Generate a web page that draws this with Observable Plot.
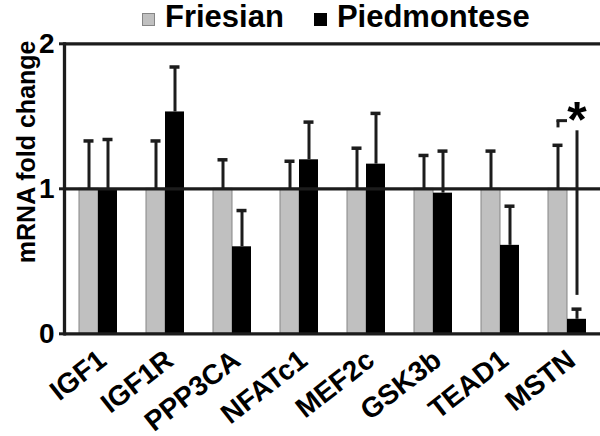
<!DOCTYPE html>
<html>
<head>
<meta charset="utf-8">
<script src="https://cdn.jsdelivr.net/npm/d3@7"></script>
<script src="https://cdn.jsdelivr.net/npm/@observablehq/plot@0.6"></script>
<style>
  html, body { margin: 0; padding: 0; background: #fff; }
  body { width: 600px; height: 436px; overflow: hidden; font-family: "Liberation Sans", Arial, sans-serif; }
  #legend { height: 34px; margin-bottom: -3px; display: flex; align-items: flex-start; padding-left: 142px; font-weight: bold; font-size: 31px; line-height: 34px; color: #000; position: relative; z-index: 1; }
  #legend .sw { width: 13px; height: 13px; margin-top: 13px; box-sizing: border-box; }
  #legend .lab { margin-left: 10px; }
  #legend .gap { width: 30px; }
  svg { overflow: visible; }
  svg text { font-weight: bold; }
</style>
</head>
<body>
<div id="legend"></div>
<div id="chart"></div>
<script>
// ---- data ----
const categories = ["IGF1", "IGF1R", "PPP3CA", "NFATc1", "MEF2c", "GSK3b", "TEAD1", "MSTN"];
const seriesNames = ["Friesian", "Piedmontese"];
const friesianMean = [1, 1, 1, 1, 1, 1, 1, 1];
const friesianSE = [0.33, 0.33, 0.20, 0.19, 0.28, 0.23, 0.26, 0.30];
const piedmonteseMean = [1.0, 1.53, 0.60, 1.20, 1.17, 0.97, 0.61, 0.10];
const piedmonteseSE = [0.34, 0.31, 0.25, 0.26, 0.35, 0.29, 0.27, 0.07];
const yTicks = [0, 1, 2];
const yLabel = "mRNA fold change";
// significance annotation (MSTN)
const sigGene = "MSTN";
const sigLine = [0.265, 1.40];     // vertical line over Piedmontese bar
const sigBracket = [1.42, 1.47];   // small bracket over Friesian bar
const sigMark = "*";
const sigMarkY = 1.60;

const seriesFill = ["#c0c0c0", "#000000"];
const seriesStroke = ["#858585", "#000000"];

// ---- legend (HTML, above the SVG) ----
const legend = document.getElementById("legend");
seriesNames.forEach((name, i) => {
  if (i > 0) { const g = document.createElement("span"); g.className = "gap"; legend.appendChild(g); }
  const sw = document.createElement("span");
  sw.className = "sw";
  sw.style.background = seriesFill[i];
  sw.style.border = `1px solid ${seriesStroke[i]}`;
  legend.appendChild(sw);
  const lab = document.createElement("span");
  lab.className = "lab";
  lab.textContent = name;
  legend.appendChild(lab);
});

// ---- long-form rows ----
const rows = categories.flatMap((g, i) => [
  {gene: g, series: seriesNames[0], mean: friesianMean[i], se: friesianSE[i]},
  {gene: g, series: seriesNames[1], mean: piedmonteseMean[i], se: piedmonteseSE[i]}
]);
const sigLineRows = [{gene: sigGene, series: seriesNames[1], y1: sigLine[0], y2: sigLine[1]}];
const sigBracketRows = [{gene: sigGene, series: seriesNames[0], y1: sigBracket[0], y2: sigBracket[1]}];
const sigMarkRows = [{gene: sigGene, series: seriesNames[1], y: sigMarkY, text: sigMark}];

const ink = "#1c1c1c";

const chart = Plot.plot({
  width: 600,
  height: 405,
  marginTop: 12.3,
  marginBottom: 102.7,
  marginLeft: 63,
  marginRight: 0,
  style: {fontFamily: "Liberation Sans, Arial, sans-serif", fontSize: "28px", background: "transparent", overflow: "visible"},
  fx: {domain: categories, padding: 0, label: null, axis: null},
  x: {domain: seriesNames, paddingInner: 0, paddingOuter: 0.72, axis: null},
  y: {domain: [0, 2], label: null, axis: null},
  marks: [
    Plot.barY(rows.filter(d => d.series === seriesNames[0]), {fx: "gene", x: "series", y: "mean", fill: seriesFill[0], stroke: seriesStroke[0], strokeWidth: 1}),
    Plot.barY(rows.filter(d => d.series === seriesNames[1]), {fx: "gene", x: "series", y: "mean", fill: seriesFill[1]}),
    // error bars (upper only)
    Plot.ruleX(rows, {fx: "gene", x: "series", y1: "mean", y2: d => d.mean + d.se, stroke: ink, strokeWidth: 3}),
    Plot.tickY(rows, {fx: "gene", x: "series", y: d => d.mean + d.se, stroke: ink, strokeWidth: 3.5, insetLeft: 4.5, insetRight: 4.5}),
    // horizontal lines at 0, 1, 2
    Plot.ruleY(yTicks, {stroke: ink, strokeWidth: 3.3}),
    // y axis line
    Plot.frame({anchor: "left", facetAnchor: "left", stroke: ink, strokeWidth: 3.3}),
    Plot.axisY({ticks: yTicks, tickSize: 5, tickPadding: 5, strokeWidth: 3, stroke: ink, fontSize: 28, fontWeight: "bold", tickFormat: d3.format("d"), label: null}),
    Plot.text([yLabel], {frameAnchor: "top-left", facetAnchor: "left", rotate: -90, textAnchor: "end", dx: -47.5, dy: -3.3, fontSize: 25, fontWeight: "bold", fill: "#000"}),
    // category labels under each facet, rotated
    Plot.text(categories, {fx: d => d, text: d => d, frameAnchor: "bottom", rotate: -38, textAnchor: "end", lineAnchor: "middle", dx: 4.7, dy: 22.6, fontSize: 28, fontWeight: "bold", fill: "#000"}),
    // significance annotation
    Plot.ruleX(sigLineRows, {fx: "gene", x: "series", y1: "y1", y2: "y2", stroke: ink, strokeWidth: 3}),
    Plot.ruleX(sigBracketRows, {fx: "gene", x: "series", y1: "y1", y2: "y2", stroke: ink, strokeWidth: 3}),
    Plot.tickY(sigBracketRows, {fx: "gene", x: "series", y: "y2", stroke: ink, strokeWidth: 3, insetLeft: 8.5}),
    Plot.text(sigMarkRows, {fx: "gene", x: "series", y: "y", text: "text", fontSize: 50, fontWeight: "bold", lineAnchor: "top", fill: "#000"})
  ]
});
document.getElementById("chart").appendChild(chart);
</script>
</body>
</html>
